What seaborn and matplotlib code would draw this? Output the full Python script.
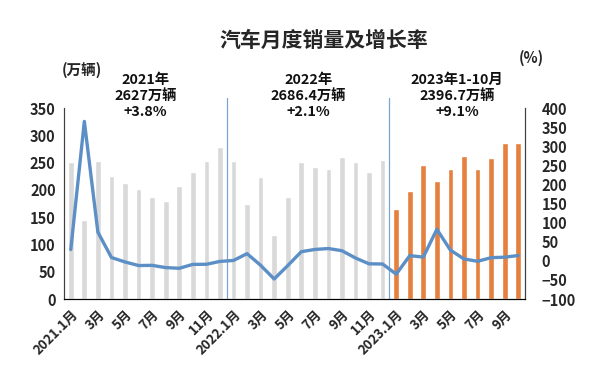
import matplotlib
matplotlib.use("Agg")
import matplotlib.pyplot as plt
import seaborn as sns
import pandas as pd
import numpy as np

# ---- data ----
months = ([f"2021.{m}" for m in range(1, 13)] + [f"2022.{m}" for m in range(1, 13)]
          + [f"2023.{m}" for m in range(1, 11)])
sales = [250.3, 145.5, 252.6, 225.2, 212.8, 201.5, 186.4, 179.9, 207.1, 233.3, 252.2, 278.6,
         253.1, 173.7, 223.4, 118.1, 186.2, 250.2, 242.0, 238.3, 261.0, 250.6, 232.6, 255.6,
         164.9, 197.6, 245.1, 215.9, 238.2, 262.2, 238.7, 258.2, 285.8, 285.3]
growth = [29.5, 364.9, 74.9, 8.6, -3.1, -12.4, -11.9, -17.8, -19.6, -9.4, -9.1, -1.6,
          0.9, 18.7, -11.7, -47.6, -12.6, 23.8, 29.7, 32.1, 26.4, 7.3, -7.9, -8.4,
          -35.0, 13.5, 9.7, 82.5, 27.9, 4.8, -1.3, 8.2, 9.5, 13.8]
groups = ["past"] * 24 + ["2023"] * 10
tick_labels = ["2021.1月", "3月", "5月", "7月", "9月", "11月",
               "2022.1月", "3月", "5月", "7月", "9月", "11月",
               "2023.1月", "3月", "5月", "7月", "9月"]
annotations = [("2021年\n2627万辆\n+3.8%", 5.5),
               ("2022年\n2686.4万辆\n+2.1%", 17.5),
               ("2023年1-10月\n2396.7万辆\n+9.1%", 28.5)]

df = pd.DataFrame({"month": months, "sales": sales, "growth": growth, "group": groups})
df["pos"] = np.arange(len(df))

sns.set_style("white")
plt.rcParams["font.family"] = ["Noto Sans CJK SC", "DejaVu Sans"]
plt.rcParams["font.weight"] = "bold"

fig = plt.figure(figsize=(5.97, 3.85), dpi=100)
ax = fig.add_axes([64 / 597, 1 - 299 / 385, 461 / 597, 191 / 385])

sns.barplot(data=df, x="month", y="sales", hue="group",
            palette={"past": "#d9d9d9", "2023": "#e5803e"},
            dodge=False, width=0.42, legend=False, ax=ax, saturation=1)
ax.set_xlim(-0.5, 33.5)
ax.set_ylim(0, 350)
ax.set_yticks(range(0, 351, 50))
ax.set_xlabel("")
ax.set_ylabel("")

ax2 = ax.twinx()
sns.lineplot(data=df, x="pos", y="growth", color="#5b8fc6", linewidth=2.4, ax=ax2)
ax2.set_ylim(-100, 400)
ax2.set_yticks(range(-100, 401, 50))
ax2.set_xlim(-0.5, 33.5)
ax2.set_ylabel("")
ax2.set_xlabel("")

ax.set_xticks(range(0, 34, 2))
ax.set_xticklabels(tick_labels, rotation=45, ha="right", rotation_mode="anchor",
                   fontsize=9.5, fontweight="bold")
for lab in ax.get_yticklabels():
    lab.set_fontweight("bold")
    lab.set_fontsize(10.5)
for lab in ax2.get_yticklabels():
    lab.set_fontweight("bold")
    lab.set_fontsize(10.5)
ax.tick_params(axis="both", length=0, pad=6)
ax2.tick_params(axis="y", length=0, pad=12)

for a in (ax, ax2):
    a.spines["top"].set_visible(False)
    a.spines["left"].set_color("#404040")
    a.spines["right"].set_color("#404040")
    a.spines["bottom"].set_color("#000000")
    a.spines["left"].set_linewidth(0.8)
    a.spines["right"].set_linewidth(0.8)

for xv in (11.5, 23.5):
    ax.axvline(xv, ymin=0, ymax=1.05, color="#7aa6d4", linewidth=0.9, clip_on=False)

for txt, xv in annotations:
    ax.text(xv, 1.0 + (108 - 96) / 191, txt, transform=ax.get_xaxis_transform(),
            ha="center", va="center", fontsize=10.3, fontweight="bold",
            linespacing=1.2, color="#111111")

fig.text(324 / 597, 1 - 40 / 385, "汽车月度销量及增长率", ha="center", va="center",
         fontsize=15, fontweight="bold")
fig.text(82 / 597, 1 - 70 / 385, "(万辆)", ha="center", va="center",
         fontsize=10.5, fontweight="bold")
fig.text(531 / 597, 1 - 58 / 385, "(%)", ha="center", va="center",
         fontsize=10.5, fontweight="bold")

fig.savefig("out.png", dpi=100)
